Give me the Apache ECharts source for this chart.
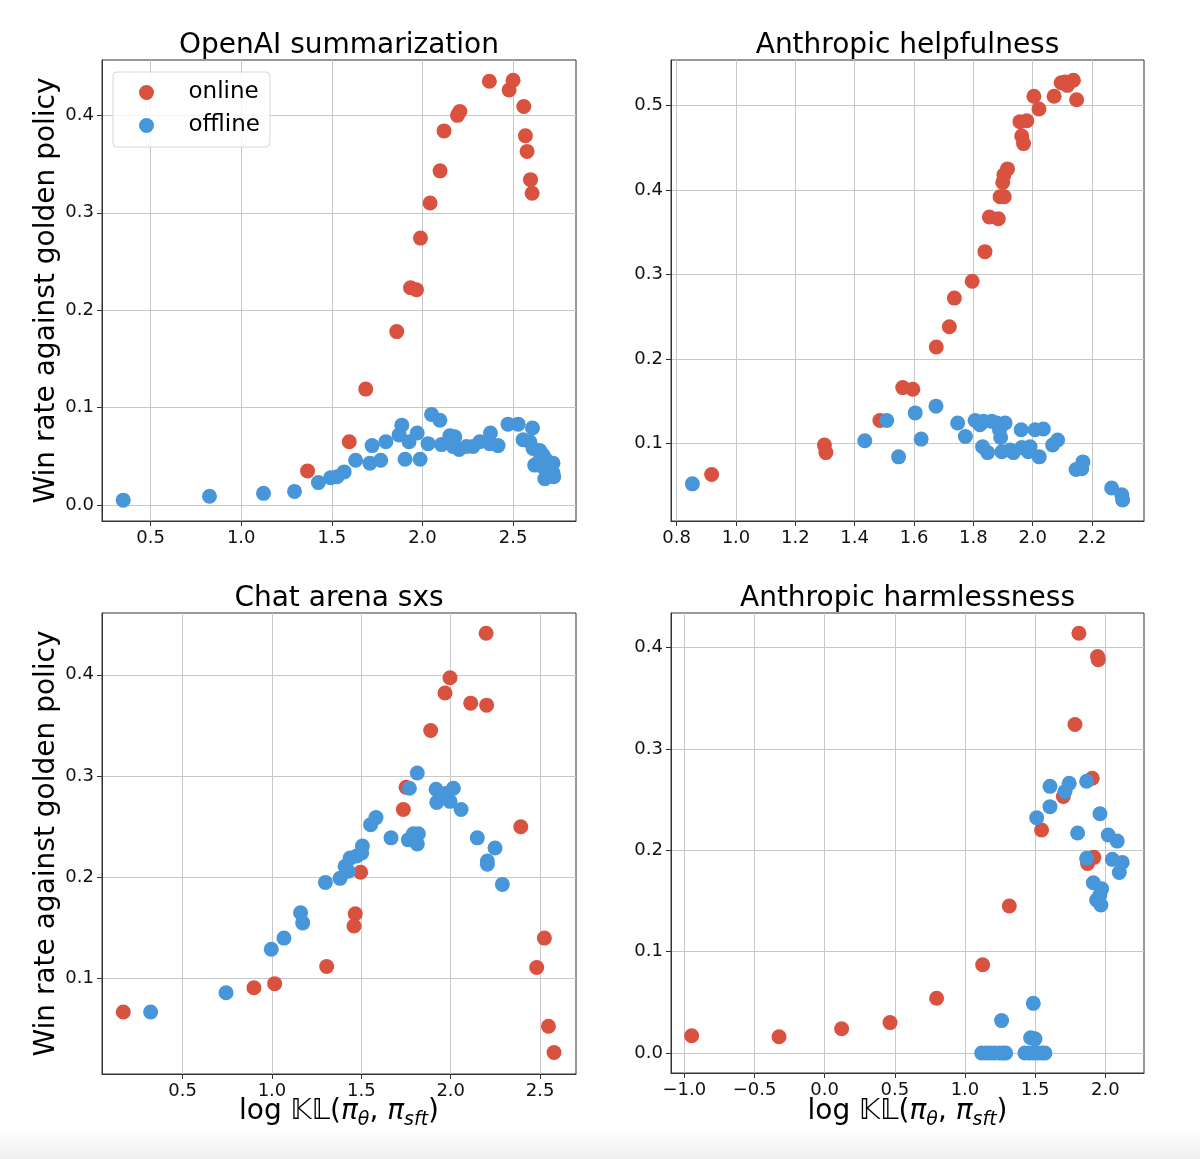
<!DOCTYPE html>
<html><head><meta charset="utf-8">
<script src="https://cdn.jsdelivr.net/npm/echarts@6/dist/echarts.min.js"></script>
<style>html,body{margin:0;padding:0;background:#fff}#c{width:1200px;height:1159px}</style>
</head><body><div id="c"></div><script>
// ---------- data (x = log KL, y = win rate) ----------
const openaiOnline = [[1.366,0.035],[1.596,0.065],[1.687,0.119],[1.858,0.178],[1.934,0.223],[1.967,0.221],[1.989,0.274],[2.042,0.310],[2.097,0.343],[2.119,0.384],[2.193,0.400],[2.206,0.404],[2.369,0.435],[2.478,0.426],[2.500,0.436],[2.559,0.409],[2.568,0.379],[2.577,0.363],[2.596,0.334],[2.605,0.320]];
const openaiOffline = [[0.349,0.005],[0.825,0.009],[1.123,0.012],[1.294,0.014],[1.426,0.023],[1.493,0.028],[1.529,0.029],[1.568,0.034],[1.631,0.046],[1.722,0.061],[1.710,0.043],[1.770,0.046],[1.798,0.065],[1.886,0.082],[1.871,0.072],[1.926,0.065],[1.904,0.047],[1.987,0.047],[1.971,0.074],[2.031,0.063],[2.050,0.093],[2.096,0.087],[2.105,0.062],[2.151,0.071],[2.178,0.070],[2.169,0.060],[2.202,0.057],[2.243,0.060],[2.279,0.060],[2.316,0.065],[2.375,0.074],[2.371,0.063],[2.417,0.061],[2.472,0.083],[2.528,0.083],[2.607,0.079],[2.555,0.067],[2.592,0.065],[2.610,0.058],[2.647,0.056],[2.666,0.051],[2.684,0.046],[2.720,0.043],[2.619,0.041],[2.666,0.039],[2.702,0.038],[2.720,0.033],[2.675,0.027],[2.724,0.029],[2.647,0.046],[2.693,0.034]];
const helpOnline = [[0.918,0.063],[1.298,0.098],[1.303,0.089],[1.485,0.127],[1.562,0.166],[1.596,0.164],[1.675,0.214],[1.719,0.238],[1.736,0.272],[1.796,0.292],[1.839,0.327],[1.854,0.368],[1.884,0.366],[1.890,0.392],[1.904,0.392],[1.899,0.409],[1.903,0.418],[1.915,0.425],[1.963,0.464],[1.969,0.455],[1.957,0.481],[1.980,0.482],[2.004,0.511],[2.021,0.496],[2.072,0.511],[2.096,0.527],[2.117,0.524],[2.137,0.530],[2.109,0.528],[2.148,0.507]];
const helpOffline = [[0.853,0.052],[1.434,0.103],[1.508,0.127],[1.548,0.084],[1.604,0.136],[1.624,0.105],[1.674,0.144],[1.747,0.124],[1.773,0.108],[1.806,0.127],[1.834,0.126],[1.862,0.126],[1.879,0.124],[1.907,0.124],[1.822,0.122],[1.888,0.116],[1.892,0.107],[1.831,0.096],[1.848,0.089],[1.896,0.090],[1.924,0.092],[1.935,0.089],[1.961,0.116],[2.008,0.116],[2.036,0.117],[1.963,0.095],[1.991,0.096],[1.985,0.090],[2.022,0.084],[2.067,0.098],[2.084,0.104],[2.146,0.069],[2.169,0.078],[2.165,0.070],[2.266,0.047],[2.300,0.039],[2.303,0.033]];
const arenaOnline = [[0.168,0.067],[0.899,0.091],[1.015,0.095],[1.306,0.112],[1.466,0.164],[1.459,0.152],[1.496,0.205],[1.735,0.267],[1.750,0.289],[1.888,0.345],[1.968,0.382],[1.996,0.397],[2.112,0.372],[2.201,0.370],[2.198,0.441],[2.392,0.250],[2.481,0.111],[2.524,0.140],[2.547,0.053],[2.578,0.027]];
const arenaOffline = [[0.321,0.067],[0.743,0.086],[0.996,0.129],[1.067,0.140],[1.160,0.165],[1.172,0.155],[1.299,0.195],[1.381,0.199],[1.409,0.211],[1.427,0.206],[1.437,0.219],[1.474,0.221],[1.502,0.224],[1.506,0.231],[1.552,0.252],[1.582,0.259],[1.666,0.239],[1.769,0.288],[1.813,0.303],[1.763,0.237],[1.791,0.243],[1.819,0.243],[1.813,0.233],[1.918,0.287],[1.922,0.274],[1.978,0.283],[2.015,0.288],[1.996,0.275],[2.058,0.267],[2.149,0.239],[2.248,0.229],[2.205,0.216],[2.205,0.213],[2.289,0.193]];
const harmOnline = [[-0.948,0.017],[-0.325,0.016],[0.121,0.024],[0.466,0.030],[0.798,0.054],[1.126,0.087],[1.316,0.145],[1.546,0.220],[1.701,0.253],[1.784,0.324],[1.812,0.414],[1.945,0.391],[1.950,0.388],[1.907,0.271],[1.874,0.187],[1.919,0.193]];
const harmOffline = [[1.119,0],[1.150,0],[1.180,0],[1.210,0],[1.245,0],[1.270,0],[1.290,0],[1.427,0],[1.460,0],[1.490,0],[1.520,0],[1.550,0],[1.570,0],[1.261,0.032],[1.487,0.049],[1.468,0.015],[1.499,0.014],[1.511,0.232],[1.606,0.243],[1.606,0.263],[1.713,0.258],[1.743,0.266],[1.867,0.268],[1.803,0.217],[1.962,0.236],[2.021,0.215],[2.085,0.209],[1.867,0.192],[2.050,0.191],[2.121,0.188],[2.100,0.178],[1.915,0.168],[1.974,0.162],[1.938,0.151],[1.969,0.146],[1.962,0.156]];

const panelTitles = ['OpenAI summarization','Anthropic helpfulness','Chat arena sxs','Anthropic harmlessness'];
const xTicks = [[0.5,1.0,1.5,2.0,2.5],[0.8,1.0,1.2,1.4,1.6,1.8,2.0,2.2],[0.5,1.0,1.5,2.0,2.5],[-1.0,-0.5,0.0,0.5,1.0,1.5,2.0]];
const yTicks = [[0.0,0.1,0.2,0.3,0.4],[0.1,0.2,0.3,0.4,0.5],[0.1,0.2,0.3,0.4],[0.0,0.1,0.2,0.3,0.4]];
const xRanges = [[0.232,2.847],[0.781,2.375],[0.049,2.701],[-1.095,2.276]];
const yRanges = [[-0.0164,0.4568],[0.008,0.554],[0.0058,0.461],[-0.0197,0.434]];
const onlineSets = [openaiOnline, helpOnline, arenaOnline, harmOnline];
const offlineSets = [openaiOffline, helpOffline, arenaOffline, harmOffline];
const yLabel = 'Win rate against golden policy';

// ---------- layout ----------
const RED = '#d9513f', BLUE = '#4896da';
const FONT = 'DejaVu Sans';
const grids = [
  {left:102, top:60, width:474, height:461},
  {left:671, top:60, width:473, height:461},
  {left:102, top:613, width:474, height:461},
  {left:671, top:613, width:473, height:460}
];
const fmt = v => (Math.round(v*10)/10).toFixed(1).replace('-', '\u2212');

function axis(i, range, ticks) {
  return {
    gridIndex: i, type: 'value', min: range[0], max: range[1],
    axisLine: {show: true, onZero: false, lineStyle: {color: '#333', width: 1}},
    axisTick: {show: true, inside: false, length: 5, lineStyle: {color: '#333'}, customValues: ticks},
    axisLabel: {customValues: ticks, formatter: fmt, color: '#111', fontSize: 18, fontFamily: FONT, margin: 8},
    splitLine: {show: true, lineStyle: {color: '#c8c8c8', width: 1}}
  };
}

const xAxes = [], yAxes = [], series = [];
for (let i = 0; i < 4; i++) {
  xAxes.push(axis(i, xRanges[i], xTicks[i]));
  yAxes.push(axis(i, yRanges[i], yTicks[i]));
  series.push({name:'online', type:'scatter', xAxisIndex:i, yAxisIndex:i, data: onlineSets[i], symbolSize:15, itemStyle:{color:RED, opacity:1}, z:2});
  series.push({name:'offline', type:'scatter', xAxisIndex:i, yAxisIndex:i, data: offlineSets[i], symbolSize:15, itemStyle:{color:BLUE, opacity:1}, z:3});
}

const graphics = [];
grids.forEach((g, i) => {
  graphics.push({type:'text', x: g.left + g.width/2, y: g.top - 14,
    style:{text: panelTitles[i], fontSize: 28, fontFamily: FONT, fill:'#000', align:'center', verticalAlign:'middle'}});
});
[0, 2].forEach(i => {
  const g = grids[i];
  graphics.push({type:'text', x: 47, y: g.top + g.height/2, rotation: Math.PI/2,
    style:{text: yLabel, fontSize: 28, fontFamily: FONT, fill:'#000', align:'center', verticalAlign:'middle'}});
});
[2, 3].forEach(i => {
  const g = grids[i];
  graphics.push({type:'text', x: g.left + g.width/2, y: 1112,
    style:{
      text: '{n|log }{k|\uD835\uDD42\uD835\uDD43}{n|(}{i|\u03C0}{s|\u03B8}{n|, }{i|\u03C0}{s|sft}{n|)}',
      align:'center', verticalAlign:'middle', fill:'#000',
      rich: {
        n: {fontSize: 28, fontFamily: FONT, lineHeight: 36, verticalAlign: 'middle', fill:'#000'},
        k: {fontSize: 28, fontFamily: FONT, lineHeight: 36, verticalAlign: 'middle', fill:'#000'},
        i: {fontSize: 28, fontFamily: FONT, fontStyle: 'italic', lineHeight: 36, verticalAlign: 'middle', fill:'#000'},
        s: {fontSize: 19, fontFamily: FONT, fontStyle: 'italic', lineHeight: 18, verticalAlign: 'bottom', fill:'#000'}
      }
    }});
});
graphics.push({type:'rect', shape:{x:0, y:1128, width:1200, height:31}, z:-10, silent:true,
  style:{fill: new echarts.graphic.LinearGradient(0,0,0,1,[{offset:0,color:'rgba(240,240,240,0)'},{offset:1,color:'rgba(238,238,238,1)'}])}});

const chart = echarts.init(document.getElementById('c'), null, {renderer:'canvas'});
chart.setOption({
  backgroundColor: '#fff',
  animation: false,
  textStyle: {fontFamily: FONT},
  grid: grids.map(g => Object.assign({show: true, borderColor: '#333', borderWidth: 1, backgroundColor: 'transparent'}, g)),
  xAxis: xAxes, yAxis: yAxes, series: series,
  legend: {
    data: ['online','offline'], orient: 'vertical', left: 113, top: 72,
    icon: 'circle', itemWidth: 40, itemHeight: 15, itemGap: 10,
    padding: [9, 10, 10, 26],
    borderColor: '#d6d6d6', borderWidth: 1, borderRadius: 4, backgroundColor: 'rgba(255,255,255,0.8)',
    textStyle: {fontSize: 23, fontFamily: FONT, color: '#000', padding: [0,0,0,17]}
  },
  graphic: graphics
});
</script></body></html>
